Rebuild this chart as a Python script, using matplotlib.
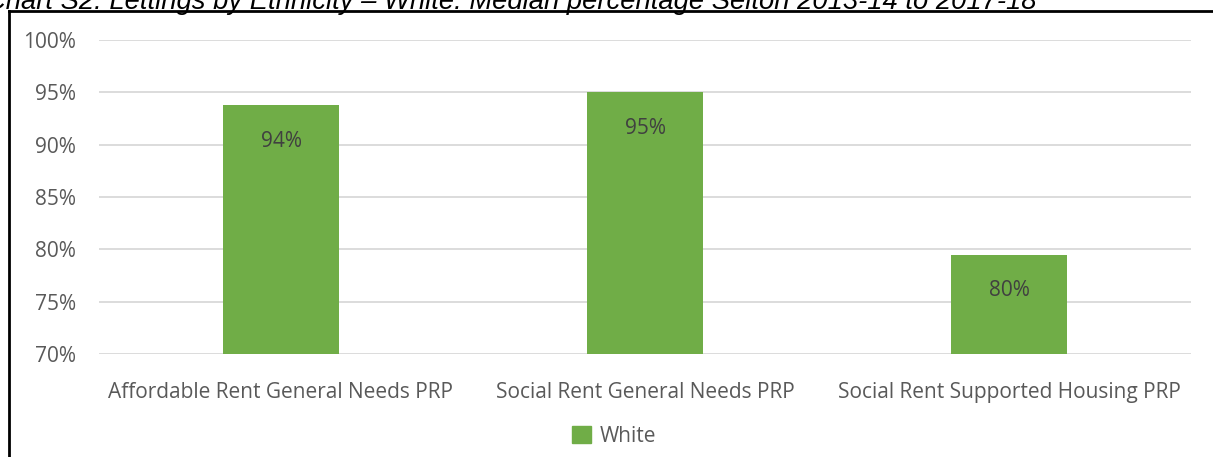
import matplotlib.pyplot as plt
from matplotlib.lines import Line2D
from matplotlib.patches import Patch

categories = [
    "Affordable Rent General Needs PRP",
    "Social Rent General Needs PRP",
    "Social Rent Supported Housing PRP",
]
white = [93.8, 95.0, 79.5]
labels = ["94%", "95%", "80%"]
yticks = [70, 75, 80, 85, 90, 95, 100]

W, H = 1213, 457
fig = plt.figure(figsize=(W / 100, H / 100), dpi=100)
ax = fig.add_axes([99 / W, 1 - 354 / H, (1191 - 99) / W, (354 - 40) / H])

green = "#70ad47"
grey = "#595959"
font = "Open Sans"
fs = 15

x = range(len(categories))
bars = ax.bar(x, white, width=0.316, bottom=0, color=green, zorder=2)
for b, lab in zip(bars, labels):
    ax.annotate(lab, (b.get_x() + b.get_width() / 2, b.get_height()),
                xytext=(0, -26), textcoords="offset points", ha="center",
                va="center", color="#404040", fontsize=fs, family=font)

ax.set_ylim(70, 100)
ax.set_xlim(-0.5, 2.5)
ax.set_yticks(yticks)
ax.set_yticklabels([f"{v}%" for v in yticks])
ax.set_xticks(list(x))
ax.set_xticklabels(categories)
ax.yaxis.grid(True, color="#d9d9d9", lw=1.3, zorder=0)
ax.tick_params(length=0, colors=grey, labelsize=fs)
ax.tick_params(axis="y", pad=16.5)
ax.tick_params(axis="x", pad=20)
for t in ax.get_xticklabels() + ax.get_yticklabels():
    t.set_family(font)
for s in ax.spines.values():
    s.set_visible(False)

fig.legend(handles=[Patch(color=green, label="White")], loc="center",
           bbox_to_anchor=(614 / W, 1 - 436 / H), frameon=False,
           prop={"family": font, "size": fs}, labelcolor=grey,
           handlelength=0.9, handleheight=0.9, handletextpad=0.4)

# outer frame of the chart, partly clipped by the page edge
fig.add_artist(Line2D([9 / W, 9 / W], [0, 1 - 11 / H], color="black", lw=2))
fig.add_artist(Line2D([9 / W, 1], [1 - 11 / H, 1 - 11 / H], color="black", lw=2))

fig.text(-14 / W, 1 - 9 / H,
         "Chart S2: Lettings by Ethnicity \u2013 White: Median percentage "
         "Selton 2013-14 to 2017-18",
         family="Liberation Sans", style="italic", fontsize=19.7,
         va="baseline", ha="left")

fig.savefig("out.png", dpi=100)
